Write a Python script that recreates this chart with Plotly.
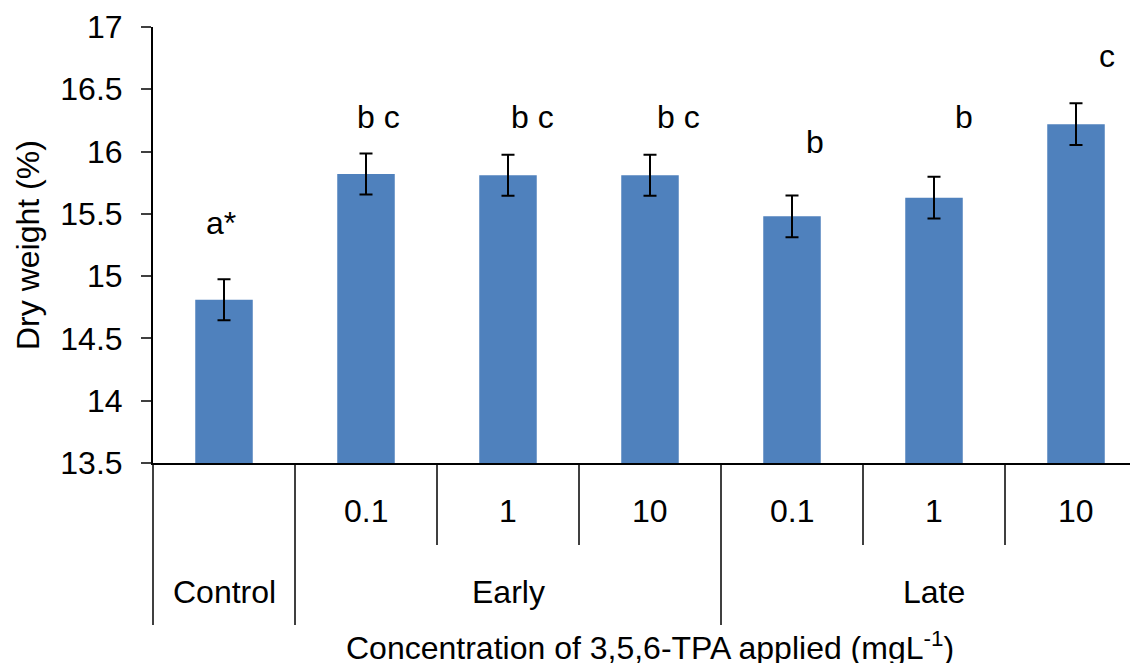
import plotly.graph_objects as go

# ---- data ----
groups = ["Control", "Early", "Early", "Early", "Late", "Late", "Late"]
concentrations = ["", "0.1", "1", "10", "0.1", "1", "10"]
dry_weight = [14.81, 15.82, 15.81, 15.81, 15.48, 15.63, 16.22]
std_err = [0.165, 0.165, 0.165, 0.165, 0.168, 0.168, 0.168]
letters = ["a*", "b c", "b c", "b c", "b", "b", "c"]
letter_y = [15.43, 16.28, 16.28, 16.28, 16.08, 16.28, 16.77]
letter_dx = [-0.02, 0.09, 0.17, 0.20, 0.16, 0.21, 0.22]
group_names = ["Control", "Early", "Late"]
y_ticks = [13.5, 14, 14.5, 15, 15.5, 16, 16.5, 17]

FONT = "Liberation Sans, Arial, sans-serif"
FS = 32
BLUE = "#4F81BD"

# page body has an 8px default margin; compensate so the figure fills 1138x663
PAGE_OFF = 8
W, H = 1138 - PAGE_OFF, 663 - PAGE_OFF
L, T = 153 - PAGE_OFF, 27 - PAGE_OFF
R = 0
plot_h = 436
B = H - T - plot_h
plot_w = W - L - R
cat_w = 142.0
x0 = -0.5
x1 = x0 + plot_w / cat_w

xs = list(range(len(dry_weight)))

fig = go.Figure()
fig.add_trace(go.Bar(
    x=xs, y=dry_weight,
    marker=dict(color=BLUE, line=dict(width=0)),
    error_y=dict(type="data", array=std_err, color="black", thickness=2, width=6.5),
    width=0.405,
    hoverinfo="y",
))

def px(xv):
    return (xv - x0) / (x1 - x0)

shapes = []
long_len = -162 / plot_h
short_len = -82 / plot_h
bounds = [-0.5, 0.5, 1.5, 2.5, 3.5, 4.5, 5.5]
for b in bounds:
    is_long = b in (-0.5, 0.5, 3.5)
    shapes.append(dict(type="line", xref="paper", yref="paper",
                       x0=px(b), x1=px(b), y0=0, y1=long_len if is_long else short_len,
                       line=dict(color="black", width=1.5)))

annotations = []
for i, c in enumerate(concentrations):
    if c:
        annotations.append(dict(x=i, y=-48 / plot_h, xref="x", yref="paper", text=c,
                                showarrow=False, yanchor="middle", xanchor="center",
                                font=dict(family=FONT, size=FS, color="black")))
for g in group_names:
    idx = [i for i, gg in enumerate(groups) if gg == g]
    cx = (idx[0] + idx[-1]) / 2
    annotations.append(dict(x=cx, y=-129 / plot_h, xref="x", yref="paper", text=g,
                            showarrow=False, yanchor="middle", xanchor="center",
                            font=dict(family=FONT, size=FS, color="black")))
annotations.append(dict(x=3, y=-183 / plot_h, xref="x", yref="paper",
                        text="Concentration of 3,5,6-TPA applied (mgL<sup>-1</sup>)",
                        showarrow=False, yanchor="middle", xanchor="center",
                        font=dict(family=FONT, size=FS, color="black")))
annotations.append(dict(x=(28 - 153) / plot_w, y=0.5, xref="paper", yref="paper",
                        text="Dry weight (%)", textangle=-90,
                        showarrow=False, yanchor="middle", xanchor="center",
                        font=dict(family=FONT, size=FS, color="black")))
for i, (t, ly, dx) in enumerate(zip(letters, letter_y, letter_dx)):
    annotations.append(dict(x=i + dx, y=ly, xref="x", yref="y", text=t,
                            showarrow=False, yanchor="middle", xanchor="center",
                            font=dict(family=FONT, size=FS, color="black")))

fig.update_layout(
    width=W, height=H,
    margin=dict(l=L, r=R, t=T, b=B, autoexpand=False),
    paper_bgcolor="white", plot_bgcolor="white",
    showlegend=False,
    shapes=shapes, annotations=annotations,
    xaxis=dict(range=[x0, x1], showline=True, linecolor="black", linewidth=2,
               showticklabels=False, ticks="", showgrid=False, zeroline=False,
               fixedrange=True),
    yaxis=dict(range=[13.5, 17], tickvals=y_ticks, ticktext=[f"{v:g}" for v in y_ticks],
               showline=True, linecolor="black", linewidth=2,
               ticks="outside", ticklen=10, tickwidth=1.5, tickcolor="#404040",
               ticklabelstandoff=12,
               tickfont=dict(family=FONT, size=FS, color="black"),
               showgrid=False, zeroline=False, fixedrange=True),
)

fig.write_html("out.html")
